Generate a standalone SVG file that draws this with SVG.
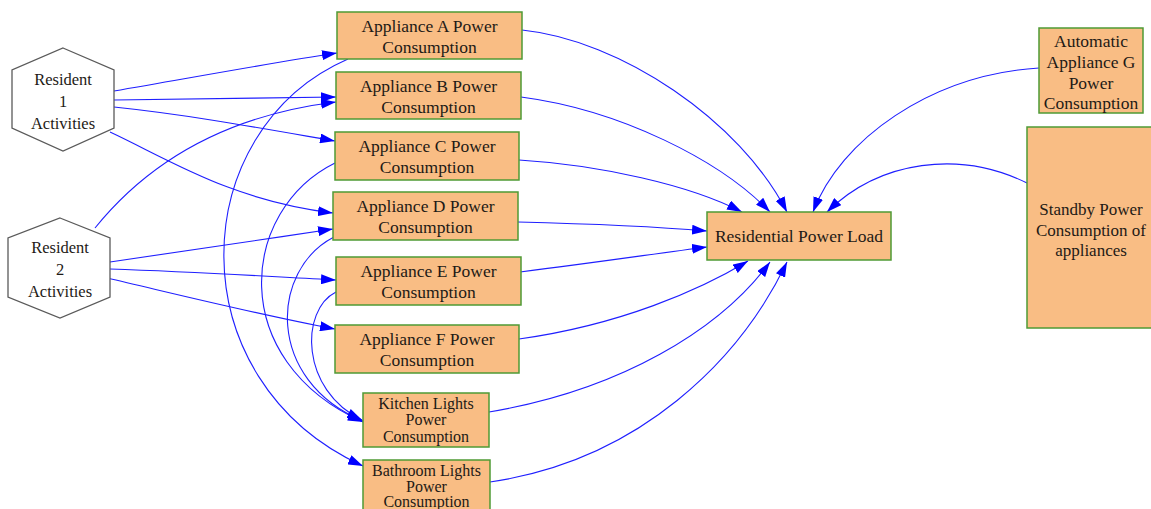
<svg xmlns="http://www.w3.org/2000/svg" width="1151" height="509" viewBox="0 0 1151 509">
<defs>
<marker id="arr" markerUnits="userSpaceOnUse" viewBox="0 0 15 10" markerWidth="15" markerHeight="10" refX="15" refY="5" orient="auto">
<path d="M0,0 L15,5 L0,10 z" fill="#0000ff"/>
</marker>
<style>
.box{fill:#f9bd84;stroke:#4f9a35;stroke-width:1.5}
.hex{fill:#ffffff;stroke:#5a5a5a;stroke-width:1.3}
text{font-family:"Liberation Serif","Times New Roman",serif;fill:#1e1a16;text-anchor:middle}
.t{font-size:17.5px}
.tk{font-size:16px}
.tr{font-size:16.5px}
.tb{font-size:17px}
.e{fill:none;stroke:#1f1fff;stroke-width:1.1;marker-end:url(#arr)}
</style>
</defs>
<rect width="1151" height="509" fill="#ffffff"/>
<g id="connectors">
<path class="e" d="M114,91 C 190,78 270,63 337,53"/>
<path class="e" d="M114,100 C 200,99 260,98 336,97"/>
<path class="e" d="M114,107 C 190,115 260,128 335,141"/>
<path class="e" d="M110,132 C 170,160 230,200 333,213"/>
<path class="e" d="M95,228 C 150,160 230,115 336,102"/>
<path class="e" d="M110,262 C 190,250 260,240 333,229"/>
<path class="e" d="M110,269 C 200,272 260,276 336,280"/>
<path class="e" d="M107,278 C 180,295 260,315 335,329"/>
<path class="e" d="M348,59 C 185,130 175,380 363,466"/>
<path class="e" d="M335,163 C 240,210 225,360 363,422"/>
<path class="e" d="M334,237 C 270,270 265,380 363,421"/>
<path class="e" d="M336,292 C 300,310 300,390 362,420"/>
<path class="e" d="M522,30 C 620,40 740,120 787,212"/>
<path class="e" d="M521,97 C 620,110 720,160 770,212"/>
<path class="e" d="M519,160 C 600,165 690,185 742,212"/>
<path class="e" d="M518,222 C 600,224 660,227 707,231"/>
<path class="e" d="M520,272 C 600,262 660,253 707,247"/>
<path class="e" d="M519,339 C 620,325 700,290 748,261"/>
<path class="e" d="M489,412 C 620,390 720,330 770,262"/>
<path class="e" d="M490,482 C 640,460 740,360 787,262"/>
<path class="e" d="M1039,68 C 930,75 840,140 813,212"/>
<path class="e" d="M1027,183 C 960,150 880,160 827,212"/>
</g>
<g id="resident1">
<polygon class="hex" points="63,48 114,70 114,128 63,151 12,128 12,70"/>
<text class="tr" x="63" y="85">Resident</text>
<text class="tr" x="63" y="107">1</text>
<text class="tr" x="63" y="129">Activities</text>
</g>
<g id="resident2">
<polygon class="hex" points="60,218 110,238 110,297 60,318 8,297 8,238"/>
<text class="tr" x="60" y="253">Resident</text>
<text class="tr" x="60" y="275">2</text>
<text class="tr" x="60" y="297">Activities</text>
</g>
<g id="applianceA">
<rect class="box" x="337" y="12" width="185" height="47"/>
<text class="t" x="429.5" y="31.5">Appliance A Power</text>
<text class="t" x="429.5" y="52.5">Consumption</text>
</g>
<g id="applianceB">
<rect class="box" x="336" y="72" width="185" height="47"/>
<text class="t" x="428.5" y="91.5">Appliance B Power</text>
<text class="t" x="428.5" y="112.5">Consumption</text>
</g>
<g id="applianceC">
<rect class="box" x="335" y="132" width="184" height="48"/>
<text class="t" x="427" y="151.5">Appliance C Power</text>
<text class="t" x="427" y="172.5">Consumption</text>
</g>
<g id="applianceD">
<rect class="box" x="333" y="192" width="185" height="48"/>
<text class="t" x="425.5" y="211.5">Appliance D Power</text>
<text class="t" x="425.5" y="232.5">Consumption</text>
</g>
<g id="applianceE">
<rect class="box" x="336" y="257" width="185" height="48"/>
<text class="t" x="428.5" y="276.5">Appliance E Power</text>
<text class="t" x="428.5" y="297.5">Consumption</text>
</g>
<g id="applianceF">
<rect class="box" x="335" y="325" width="184" height="48"/>
<text class="t" x="427" y="344.5">Appliance F Power</text>
<text class="t" x="427" y="365.5">Consumption</text>
</g>
<g id="kitchen">
<rect class="box" x="363" y="393" width="126" height="54"/>
<text class="tk" x="426" y="408.5">Kitchen Lights</text>
<text class="tk" x="426" y="425">Power</text>
<text class="tk" x="426" y="441.5">Consumption</text>
</g>
<g id="bathroom">
<rect class="box" x="363" y="460" width="127" height="56"/>
<text class="tk" x="426.5" y="475.5">Bathroom Lights</text>
<text class="tk" x="426.5" y="491.5">Power</text>
<text class="tk" x="426.5" y="507">Consumption</text>
</g>
<g id="residentialLoad">
<rect class="box" x="707" y="212" width="184" height="48"/>
<text class="t" x="799" y="242">Residential Power Load</text>
</g>
<g id="applianceG">
<rect class="box" x="1039" y="28" width="104" height="85"/>
<text class="t" x="1091" y="46.5">Automatic</text>
<text class="t" x="1091" y="68">Appliance G</text>
<text class="t" x="1091" y="89">Power</text>
<text class="t" x="1091" y="109">Consumption</text>
</g>
<g id="standby">
<rect class="box" x="1027" y="127" width="130" height="201"/>
<text class="tb" x="1091" y="215">Standby Power</text>
<text class="tb" x="1091" y="236">Consumption of</text>
<text class="tb" x="1091" y="256">appliances</text>
</g>
</svg>
